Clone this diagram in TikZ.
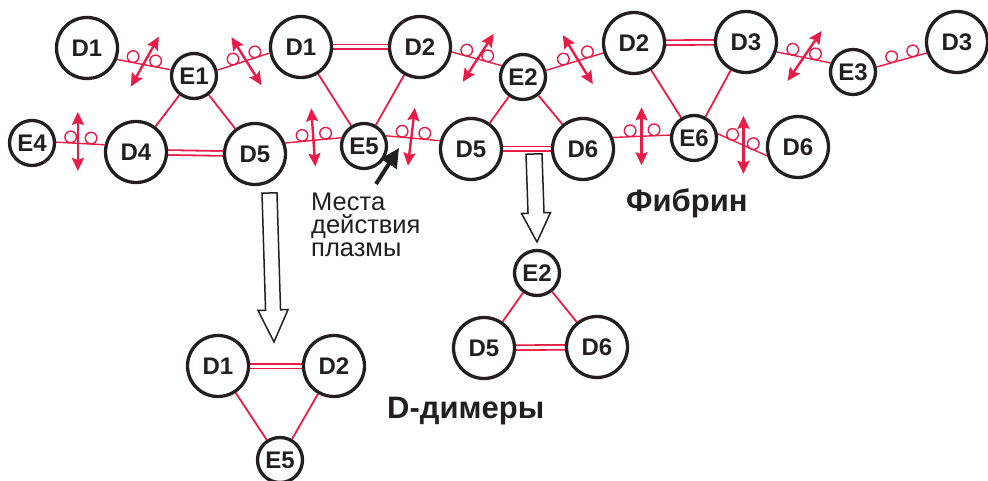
\documentclass[tikz,border=0pt]{standalone}
\usepackage{fontspec}
\setmainfont{Liberation Sans}
\usetikzlibrary{calc,arrows.meta,backgrounds}
\definecolor{fibred}{RGB}{232,28,72}
\definecolor{ink}{RGB}{35,31,32}

% coiled alpha-chain link with two small loops
\newcommand\coilink[3]{%
  \draw[coilline] (#1) -- (#2) coordinate[pos=.3] (#3a) coordinate[pos=.5] (#3m) coordinate[pos=.72] (#3b);
  \draw[coilline] ($(#3a)+(0,-6)$) circle[radius=5.8] ($(#3b)+(0,-6)$) circle[radius=5.8];}
% double-headed cleavage mark across a coil
\newcommand\cutmark[3]{\draw[cut] ($(#1)+#2$) -- ($(#1)+#3$);}
% broad hollow arrow: top, tip, shaft half-width, head half-width, head length
\newcommand\hollowarrow[5]{%
  \coordinate (hb) at ($(#2)!#5!(#1)$);
  \draw[hollow] ($(#1)!#3!90:(#2)$) -- ($(hb)!#3!90:(#2)$) -- ($(hb)!#4!90:(#2)$) -- (#2)
    -- ($(hb)!#4!-90:(#2)$) -- ($(hb)!#3!-90:(#2)$) -- ($(#1)!#3!-90:(#2)$) -- cycle;}

\begin{document}
\begin{tikzpicture}[x=1pt,y=-1pt,
  dom/.style={circle,draw=ink,line width=3.3pt,fill=white,minimum size=61pt,inner sep=0pt,
    text=ink,font=\fontsize{24}{24}\selectfont\bfseries},
  edom/.style={dom,minimum size=45pt},
  link/.style={draw=fibred,line width=1.8pt},
  dlink/.style={draw=fibred,line width=1.8pt,double=white,double distance=3pt},
  coilline/.style={draw=fibred,line width=1.4pt},
  cut/.style={fibred,line width=2.4pt,
    {Stealth[length=13pt,width=12pt,inset=2pt]}-{Stealth[length=13pt,width=12pt,inset=2pt]}},
  hollow/.style={draw=ink,line width=1.5pt,fill=white,line join=miter},
  txt/.style={text=ink,inner sep=0pt}
]
\useasboundingbox (0,0) rectangle (988,481);

% fibrin strand, upper row
\node[dom]  (D1a) at (87,48)  {D1};
\node[edom] (E1)  at (194,76) {E1};
\node[dom]  (D1b) at (301,47) {D1};
\node[dom]  (D2a) at (420,47) {D2};
\node[edom] (E2)  at (523,77) {E2};
\node[dom]  (D2b) at (634,43) {D2};
\node[dom]  (D3a) at (746,42) {D3};
\node[edom] (E3)  at (853,72) {E3};
\node[dom]  (D3b) at (957,42) {D3};
% fibrin strand, lower row
\node[edom] (E4)  at (32,143)  {E4};
\node[dom]  (D4)  at (136,152) {D4};
\node[dom]  (D5a) at (255,154) {D5};
\node[edom] (E5a) at (364,146) {E5};
\node[dom]  (D5b) at (471,149) {D5};
\node[dom]  (D6a) at (583,149) {D6};
\node[edom] (E6)  at (694,138) {E6};
\node[dom]  (D6b) at (798,147) {D6};
% degradation products
\node[edom] (E2c) at (537,273) {E2};
\node[dom]  (D5c) at (484,348) {D5};
\node[dom]  (D6c) at (597,347) {D6};
\node[dom]  (D1c) at (218,366) {D1};
\node[dom]  (D2c) at (334,366) {D2};
\node[edom] (E5c) at (280,460) {E5};

\begin{scope}[on background layer]
  \draw[link] (E1) -- (D4) (E1) -- (D5a) (D1b) -- (E5a) (D2a) -- (E5a)
              (E2) -- (D5b) (E2) -- (D6a) (D2b) -- (E6) (D3a) -- (E6)
              (E2c) -- (D5c) (E2c) -- (D6c) (D1c) -- (E5c) (D2c) -- (E5c);
  \draw[dlink] (D4) -- (D5a);
  \draw[dlink] (D1b) -- (D2a);
  \draw[dlink] (D5b) -- (D6a);
  \draw[dlink] (D2b) -- (D3a);
  \draw[dlink] (D5c) -- (D6c);
  \draw[dlink] (D1c) -- (D2c);

  \coilink{D1a.339}{E1.165}{c1}   \cutmark{c1m}{(-13,22)}{(15,-28)}
  \coilink{E1.14}{D1b.191}{c2}    \cutmark{c2m}{(-12,-24.5)}{(18,23.5)}
  \coilink{D2a.351}{E2.152}{c3}   \cutmark{c3m}{(-14,23)}{(17,-25)}
  \coilink{E2.16}{D2b.198}{c4}    \cutmark{c4m}{(-12,-26.5)}{(18,22.5)}
  \coilink{D3a.342}{E3.158}{c5}   \cutmark{c5m}{(-16,23.5)}{(18,-26.5)}
  \coilink{E3.12}{D3b.200}{c6}
  \coilink{E4.2}{D4.167}{c7}      \cutmark{c7m}{(-2.5,-31.5)}{(-2.5,27.5)}
  \coilink{D5a.20}{E5a.160}{c8}   \cutmark{c8m}{(-2,-32)}{(2,26)}
  \coilink{E5a.25}{D5b.165}{c9}   \cutmark{c9m}{(2,-30.5)}{(-5,27.5)}
  \coilink{D6a.21}{E6.173}{c10}   \cutmark{c10m}{(0,-29)}{(0,29)}
  \coilink{E6.10}{D6b.196}{c11}   \cutmark{c11m}{(1,-29)}{(1,29)}
\end{scope}

% breakdown arrows
\coordinate (h1top) at (269.5,193);
\coordinate (h1tip) at (274,342);
\hollowarrow{h1top}{h1tip}{7.5pt}{15pt}{32pt}
\coordinate (h2top) at (534,154);
\coordinate (h2tip) at (537,242);
\hollowarrow{h2top}{h2tip}{8pt}{14.5pt}{29pt}

% plasmin pointer
\coordinate (ptail) at (376,184);
\coordinate (ptip) at (399,148);
\draw[ink,line width=4pt,-{Triangle[length=19pt,width=18pt]}] (ptail) -- (ptip);

\node[txt,anchor=north west,align=left,font=\fontsize{25.5}{23}\selectfont] at (311,193)
  {Места\\действия\\плазмы};
\node[txt,anchor=base west,font=\fontsize{31}{31}\selectfont\bfseries] at (626,212) {Фибрин};
\node[txt,anchor=base west,font=\fontsize{31}{31}\selectfont\bfseries] at (387,418) {D-димеры};
\end{tikzpicture}
\end{document}
